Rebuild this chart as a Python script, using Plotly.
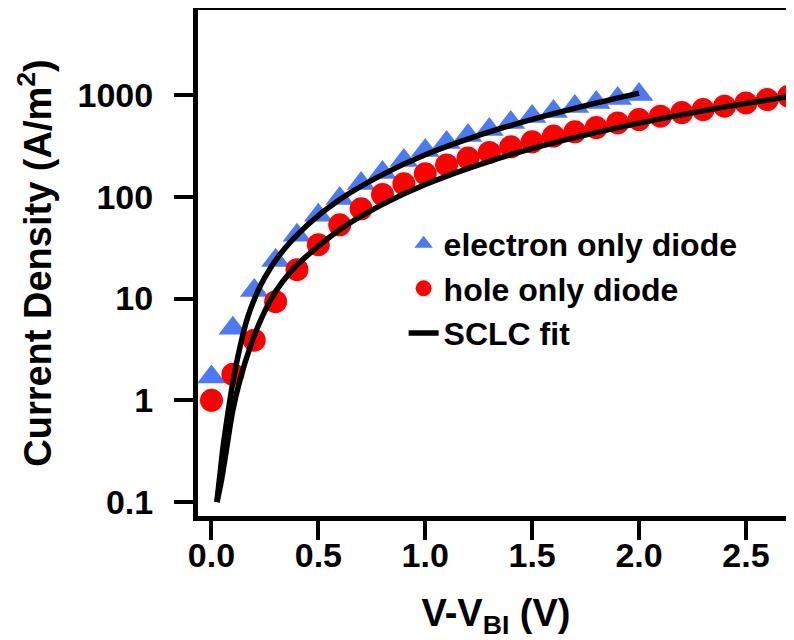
import plotly.graph_objects as go

# ---- data ----
electron_v = [0.0, 0.1, 0.2, 0.3, 0.4, 0.5, 0.6, 0.7, 0.8, 0.9, 1.0,
              1.1, 1.2, 1.3, 1.4, 1.5, 1.6, 1.7, 1.8, 1.9, 2.0]
electron_j = [1.7, 5.1, 12.0, 23.7, 41.8, 65.6, 96, 135, 173, 227, 284,
              340, 399, 457, 535, 612, 686, 768, 841, 920, 1007]

hole_v = [0.0, 0.1, 0.2, 0.3, 0.4, 0.5, 0.6, 0.7, 0.8, 0.9, 1.0,
          1.1, 1.2, 1.3, 1.4, 1.5, 1.6, 1.7, 1.8, 1.9, 2.0,
          2.1, 2.2, 2.3, 2.4, 2.5, 2.6, 2.7]
hole_j = [1.0, 1.8, 3.9, 9.3, 19.2, 33.8, 53, 76, 105, 134, 168,
          205, 240, 272, 309, 346, 394, 434, 478, 531, 572,
          618, 670, 718, 774, 835, 900, 971]

# SCLC fit curves
fit_e_v = [0.025, 0.04, 0.055, 0.077, 0.10, 0.13, 0.17, 0.23, 0.32, 0.45,
           0.6, 0.8, 1.0, 1.25, 1.5, 1.75, 2.0]
fit_e_j = [0.1, 0.19, 0.36, 0.75, 1.5, 3.1, 6.6, 13.5, 27, 53,
           94, 165, 258, 400, 575, 785, 1040]

fit_h_v = [0.026, 0.048, 0.073, 0.10, 0.134, 0.18, 0.237, 0.30, 0.37, 0.44,
           0.6, 0.8, 1.0, 1.3, 1.6, 2.0, 2.35, 2.7]
fit_h_j = [0.1, 0.17, 0.36, 0.8, 1.6, 3.3, 6.6, 11.7, 18.3, 25.5,
           47.5, 84, 132, 223, 338, 528, 729, 962]

y_tickvals = [0.1, 1, 10, 100, 1000]
y_ticktext = ["0.1", "1", "10", "100", "1000"]
x_tickvals = [0.0, 0.5, 1.0, 1.5, 2.0, 2.5]
x_ticktext = ["0.0", "0.5", "1.0", "1.5", "2.0", "2.5"]

BLUE = "#4a7af5"
RED = "#ff0000"
FONT = "Liberation Sans, Arial, Helvetica, sans-serif"

fig = go.Figure()
fig.add_trace(go.Scatter(
    x=electron_v, y=electron_j, mode="markers", name="<b>electron only diode</b>",
    marker=dict(symbol="triangle-up", size=25, color=BLUE, line=dict(width=0))))
fig.add_trace(go.Scatter(
    x=hole_v, y=hole_j, mode="markers", name="<b>hole only diode</b>",
    marker=dict(symbol="circle", size=23, color=RED, line=dict(width=0))))
fig.add_trace(go.Scatter(
    x=fit_e_v, y=fit_e_j, mode="lines", name="<b>SCLC fit</b>",
    line=dict(color="black", width=5.5, shape="spline", smoothing=1.0)))
fig.add_trace(go.Scatter(
    x=fit_h_v, y=fit_h_j, mode="lines", name="<b>SCLC fit</b>", showlegend=False,
    line=dict(color="black", width=5.5, shape="spline", smoothing=1.0)))

# the page places the figure 8px right and 8px down; margins compensate
fig.update_layout(
    width=794, height=640,
    margin=dict(l=190, r=8, t=2, b=132),
    paper_bgcolor="white", plot_bgcolor="white",
    font=dict(family=FONT, size=32, color="black"),
    showlegend=True,
    legend=dict(x=0.345, y=0.592, xanchor="left", yanchor="top",
                bgcolor="rgba(0,0,0,0)", borderwidth=0,
                font=dict(family=FONT, size=32, color="black"),
                tracegroupgap=0, itemwidth=30),
)
fig.update_xaxes(
    range=[-0.063, 2.725], showgrid=False, zeroline=False, automargin=False,
    showline=True, linecolor="black", linewidth=5, mirror=True,
    ticks="outside", ticklen=19, tickwidth=4, tickcolor="black",
    tickvals=x_tickvals, ticktext=["<b>%s</b>" % t for t in x_ticktext],
    tickfont=dict(family=FONT, size=34, color="black"),
    ticklabelstandoff=-14,
    title=dict(text="<b>V-V<sub>BI</sub> (V)</b>", font=dict(family=FONT, size=38), standoff=28),
)
fig.update_yaxes(
    type="log", range=[-1.136, 3.834], showgrid=False, zeroline=False, automargin=False,
    showline=True, linecolor="black", linewidth=5, mirror=False,
    ticks="outside", ticklen=19, tickwidth=4, tickcolor="black",
    tickvals=y_tickvals, ticktext=["<b>%s</b>" % t for t in y_ticktext],
    tickfont=dict(family=FONT, size=34, color="black"),
    ticklabelstandoff=14,
    title=dict(text="<b>Current Density (A/m<sup>2</sup>)</b>", font=dict(family=FONT, size=38), standoff=16),
)

fig.write_html("out.html")
